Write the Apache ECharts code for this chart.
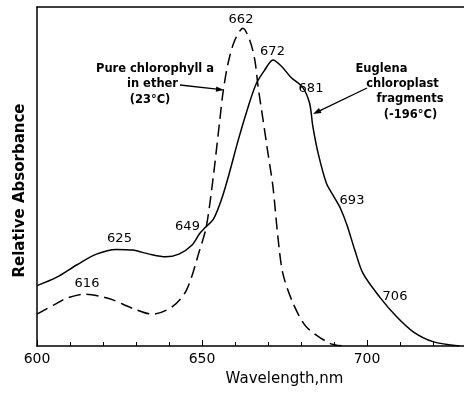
<!DOCTYPE html>
<html>
<head>
<meta charset="utf-8">
<script src="https://cdn.jsdelivr.net/npm/echarts@6/dist/echarts.min.js"></script>
<style>
html,body{margin:0;padding:0;background:#fff;}
#chart{width:464px;height:393px;}
</style>
</head>
<body>
<div id="chart"></div>
<script>
// Wavelength (nm) / relative absorbance (arbitrary 0-100)
const euglenaWavelength = [600,606,612,618,624,629,634,639,643,647,649.3,650.8,653.5,656,658,661,664,666.5,669,671.5,674,677,680.5,682.6,683.6,685.2,687.7,690,692,694,696.3,698.8,703.8,709,714,720,728];
const euglenaAbsorbance = [17.8,20.3,23.9,27.1,28.5,28.3,27.1,26.3,27.1,29.8,33.2,34.8,37.5,43.5,50,60.8,70.6,77.5,81.4,84.4,82.6,79.2,76.3,71.6,64.7,56.8,48,44,40.5,35.5,28.3,21.4,14.5,8.6,4.2,1.3,0];
const chlWavelength = [600,606,609,614.5,619,623,629,635,641,645.3,649.3,651.3,653.3,655.4,656.4,657.9,659.9,662.4,664.5,666,667,668.5,670,671.5,673,674.5,677.6,681.6,688.7,693];
const chlAbsorbance = [9.4,12.6,14.1,15.3,14.7,13.6,11.1,9.4,11.6,16.5,28.3,35.2,49,66.7,75,83.4,90.1,93.7,90.1,84.4,76.5,66.7,56.8,47,32.2,21.4,12.6,5.7,0.8,0];
const xTickLabels = [600,650,700];
const peakLabels = ['662','672','681','693','706','625','649','616'];
const xAxisTitle = 'Wavelength,nm';
const yAxisTitle = 'Relative Absorbance';
const leftNote = ['Pure chlorophyll a','in ether','(23°C)'];
const rightNote = ['Euglena','chloroplast','fragments','(-196°C)'];

const zip = (a, b) => a.map((v, i) => [v, b[i]]);
const FONT = 'DejaVu Sans';
const txt = (text, x, y, size, weight) => ({
  type: 'text', x: x, y: y,
  style: {text: text, fill: '#000', font: (weight || 'normal') + ' ' + size + 'px "' + FONT + '"', textAlign: 'center', textVerticalAlign: 'middle'}
});
const peakPos = [[241,20],[272.5,52],[311,89],[352,201],[395,297],[119.5,239],[187.5,227],[87,284]];
const graphics = [];
peakLabels.forEach((t, i) => graphics.push(txt(t, peakPos[i][0], peakPos[i][1], 13)));
const leftPos = [[155,69],[152.5,84],[150,100]];
leftNote.forEach((t, i) => graphics.push(txt(t, leftPos[i][0], leftPos[i][1], 11.5, 'bold')));
const rightPos = [[381.5,69],[402.5,84],[410,99.5],[410.5,115]];
rightNote.forEach((t, i) => graphics.push(txt(t, rightPos[i][0], rightPos[i][1], 11.5, 'bold')));
graphics.push({type:'line', shape:{x1:180,y1:85,x2:217,y2:89.2}, style:{stroke:'#000', lineWidth:1.3}});
graphics.push({type:'polygon', shape:{points:[[224,90],[215.8,91.8],[216.3,86.4]]}, style:{fill:'#000'}});
graphics.push({type:'line', shape:{x1:367,y1:88,x2:319.5,y2:110.9}, style:{stroke:'#000', lineWidth:1.3}});
graphics.push({type:'polygon', shape:{points:[[313,114],[319,108],[321.5,113]]}, style:{fill:'#000'}});
const yTitle = txt(yAxisTitle, 20, 190.5, 15, 'bold');
yTitle.rotation = Math.PI / 2;
graphics.push(yTitle);

const chart = echarts.init(document.getElementById('chart'), null, {renderer: 'canvas'});
chart.setOption({
  backgroundColor: '#fff',
  animation: false,
  textStyle: {fontFamily: FONT},
  grid: {left: 37, right: -68, top: 7, bottom: 47, containLabel: false, outerBoundsMode: 'none'},
  xAxis: [{
    type: 'value', min: 600, max: 750, interval: 50,
    axisLine: {show: true, lineStyle: {color: '#000', width: 1.5}},
    axisTick: {show: true, inside: true, length: 6, lineStyle: {color: '#000', width: 1}},
    minorTick: {show: true, splitNumber: 5, length: 4, lineStyle: {color: '#000', width: 1}},
    splitLine: {show: false},
    axisLabel: {color: '#000', fontSize: 14, margin: 6, fontFamily: FONT,
      formatter: v => xTickLabels.indexOf(v) >= 0 ? String(v) : ''},
    name: xAxisTitle, nameLocation: 'middle', nameGap: 26,
    nameTextStyle: {color: '#000', fontSize: 15, fontFamily: FONT}
  }, {
    type: 'value', min: 600, max: 750, position: 'top',
    axisLine: {show: true, onZero: false, lineStyle: {color: '#000', width: 1.5}},
    axisTick: {show: false}, axisLabel: {show: false}, splitLine: {show: false}
  }],
  yAxis: {
    type: 'value', min: 0, max: 100,
    axisLine: {show: true, lineStyle: {color: '#000', width: 1.5}},
    axisTick: {show: false}, axisLabel: {show: false}, splitLine: {show: false}
  },
  series: [{
    name: 'Euglena chloroplast fragments (-196°C)', type: 'line', xAxisIndex: 0,
    data: zip(euglenaWavelength, euglenaAbsorbance),
    showSymbol: false, smooth: 0.3, clip: true,
    lineStyle: {color: '#000', width: 1.5}
  }, {
    name: 'Pure chlorophyll a in ether (23°C)', type: 'line', xAxisIndex: 0,
    data: zip(chlWavelength, chlAbsorbance),
    showSymbol: false, smooth: 0.3, clip: true,
    lineStyle: {color: '#000', width: 1.5, type: [12, 6]}
  }],
  graphic: graphics
});
</script>
</body>
</html>
